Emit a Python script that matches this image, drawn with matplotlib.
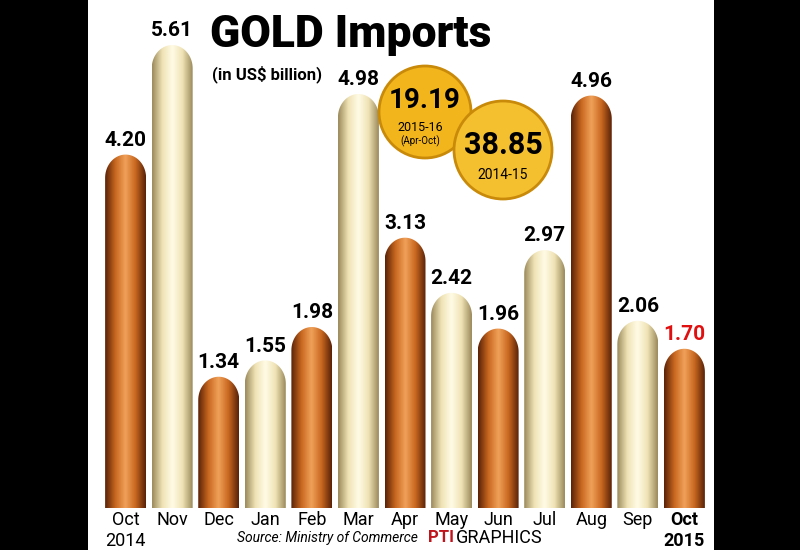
import matplotlib
matplotlib.use('Agg')
import numpy as np
import matplotlib.pyplot as plt
from matplotlib.patches import Rectangle, Ellipse, PathPatch
from matplotlib.path import Path

months = ['Oct', 'Nov', 'Dec', 'Jan', 'Feb', 'Mar', 'Apr', 'May', 'Jun', 'Jul', 'Aug', 'Sep', 'Oct']
years = ['2014', '', '', '', '', '', '', '', '', '', '', '', '2015']
values = [4.20, 5.61, 1.34, 1.55, 1.98, 4.98, 3.13, 2.42, 1.96, 2.97, 4.96, 2.06, 1.70]
copper = ['#5a2208', '#c8671f', '#f0a15a']
cream = ['#9c8b5c', '#efe2b4', '#fffbe6']

fig = plt.figure(figsize=(8, 5.5), dpi=100, facecolor='black')
fig.patches.append(Rectangle((88/800, 0), (714-88)/800, 1, transform=fig.transFigure,
                             facecolor='white', edgecolor='none', zorder=-5))

ax = fig.add_axes([100/800, 42/550, 610/800, 508/550])
ax.set_facecolor('none')
ax.set_xlim(-0.55, 12.55)
ax.set_ylim(-0.35, 6.19)
ax.axis('off')

w = 0.44   # half-width of bar
cap = 0.30  # height of rounded top
for i, v in enumerate(values):
    cols = copper if i % 2 == 0 else cream
    cmap = matplotlib.colors.LinearSegmentedColormap.from_list('c', [cols[0], cols[1], cols[2], cols[1], cols[0]])
    t = np.linspace(np.pi, 0, 40)
    xs = np.concatenate([[i - w, i - w], i + w * np.cos(t), [i + w, i + w]])
    ys = np.concatenate([[-0.35, v - cap], v - cap + cap * np.sin(t), [v - cap, -0.35]])
    verts = list(zip(xs, ys))
    path = Path(verts + [verts[0]], closed=True)
    patch = PathPatch(path, facecolor='none', edgecolor='none')
    ax.add_patch(patch)
    grad = np.linspace(0, 1, 100).reshape(1, -1)
    im = ax.imshow(grad, extent=[i - w, i + w, -0.35, v], aspect='auto', cmap=cmap,
                   interpolation='bicubic', zorder=2)
    im.set_clip_path(patch)
    ax.text(i, v + 0.06, f'{v:.2f}', ha='center', va='bottom', fontsize=15, fontweight='bold',
            color='#e01010' if i == len(values) - 1 else 'black', family='Roboto')

# month labels
for i, (m, y) in enumerate(zip(months, years)):
    bold = 'bold' if i == len(months) - 1 else 'normal'
    xf = (100 + (i + 0.55) * 610 / 13.1) / 800
    fig.text(xf, 1 - 520/550, m, ha='center', va='center', fontsize=13, fontweight=bold, family='Roboto')
    if y:
        fig.text(xf, 1 - 541/550, y, ha='center', va='center', fontsize=13, fontweight=bold, family='Roboto')

fig.text(210/800, 1 - 35/550, 'GOLD Imports', fontsize=32, fontweight='heavy', va='center', family='Roboto')
fig.text(212/800, 1 - 74/550, '(in US$ billion)', fontsize=12, fontweight='bold', va='center', family='Roboto')

# summary circles
c1 = Ellipse((425/800, 1 - 112/550), 92/800, 92/550, transform=fig.transFigure, facecolor='#f2b51c',
             edgecolor='#c98a0a', lw=2, zorder=5)
c2 = Ellipse((503/800, 1 - 150/550), 98/800, 98/550, transform=fig.transFigure, facecolor='#f5c030',
             edgecolor='#c98a0a', lw=2, zorder=6)
fig.patches.extend([c1, c2])
fig.text(425/800, 1 - 100/550, '19.19', ha='center', va='center', fontsize=20, fontweight='bold', zorder=7, family='Roboto')
fig.text(420/800, 1 - 128/550, '2015-16', ha='center', va='center', fontsize=9, zorder=7, family='Roboto')
fig.text(420/800, 1 - 141/550, '(Apr-Oct)', ha='center', va='center', fontsize=7, zorder=7, family='Roboto')
fig.text(503/800, 1 - 145/550, '38.85', ha='center', va='center', fontsize=22, fontweight='bold', zorder=8, family='Roboto')
fig.text(503/800, 1 - 175/550, '2014-15', ha='center', va='center', fontsize=10, zorder=8, family='Roboto')

fig.text(327/800, 1 - 538/550, 'Source: Ministry of Commerce', ha='center', va='center', fontsize=10,
         style='italic', family='Roboto')
fig.text(428/800, 1 - 538/550, 'PTI', ha='left', va='center', fontsize=12, fontweight='bold',
         color='#c0141c', family='Roboto')
fig.text(456/800, 1 - 538/550, 'GRAPHICS', ha='left', va='center', fontsize=13, family='Roboto')

fig.savefig('out.png', dpi=100, facecolor='black')
